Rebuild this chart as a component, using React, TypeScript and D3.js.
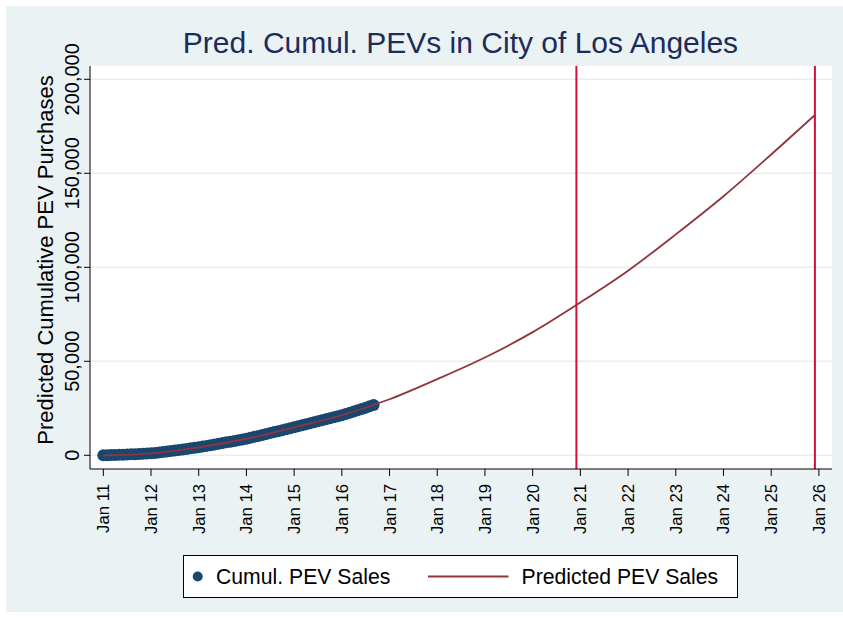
import React from "react";
import * as d3 from "d3";

// Months since Jan 2011
const observedValues = [
  0, 50, 110, 180, 250, 330, 420, 510, 610, 720, 830, 940,
  1050, 1270, 1500, 1740, 1990, 2250, 2520, 2800, 3090, 3390, 3700, 4000,
  4300, 4650, 5010, 5380, 5750, 6120, 6500, 6880, 7260, 7640, 8020, 8400,
  8800, 9300, 9800, 10300, 10800, 11310, 11820, 12330, 12840, 13350, 13860, 14380,
  14900, 15420, 15940, 16460, 16990, 17520, 18050, 18580, 19120, 19660, 20200, 20750,
  21300, 21950, 22600, 23270, 23950, 24640, 25340, 26050, 26800,
];
const predictedMonths = [0, 12, 24, 36, 48, 60, 72, 84, 96, 108, 120, 132, 144, 156, 168, 179];
const predictedValues = [
  0, 1050, 4250, 8800, 14900, 21300, 29800, 40500, 52000, 65500, 81300, 98200, 117500, 137800, 160000, 181000,
];
const markerMonths = [119, 179];
const xTickMonths = d3.range(0, 181, 12);
const xTickLabels = ["Jan 11", "Jan 12", "Jan 13", "Jan 14", "Jan 15", "Jan 16", "Jan 17", "Jan 18", "Jan 19", "Jan 20", "Jan 21", "Jan 22", "Jan 23", "Jan 24", "Jan 25", "Jan 26"];
const yTicks = [0, 50000, 100000, 150000, 200000];

const W = 843;
const H = 618;
const plot = { left: 90, right: 832, top: 66, bottom: 469 };
const FONT = "Liberation Sans, Arial, sans-serif";
const NAVY = "#1a476f";
const MAROON = "#90353b";
const RED = "#d0103a";

export default function App() {
  const x = d3.scaleLinear().domain([-3.35, 183.3]).range([plot.left, plot.right]);
  const y = d3.scaleLinear().domain([-7290, 207070]).range([plot.bottom, plot.top]);
  const fmt = d3.format(",");

  const predPts: [number, number][] = predictedMonths.map((m, i) => [m, predictedValues[i]]);
  const line = d3
    .line<[number, number]>()
    .x((d) => x(d[0]))
    .y((d) => y(d[1]))
    .curve(d3.curveMonotoneX);

  return (
    <svg
      width={W}
      height={H}
      style={{ position: "absolute", left: 0, top: 0, fontFamily: FONT }}
    >
      <rect x={0} y={0} width={W} height={H} fill="#ffffff" />
      <rect x={6} y={6} width={W - 6} height={H - 12} fill="#eaf2f3" />
      <rect
        x={plot.left}
        y={plot.top}
        width={plot.right - plot.left}
        height={plot.bottom - plot.top}
        fill="#ffffff"
      />
      {/* gridlines */}
      {yTicks.map((t) => (
        <line
          key={"g" + t}
          x1={plot.left}
          x2={plot.right}
          y1={y(t)}
          y2={y(t)}
          stroke="#e6eef0"
          strokeWidth={1.4}
        />
      ))}
      {/* vertical markers */}
      {markerMonths.map((m) => (
        <line
          key={"v" + m}
          x1={x(m)}
          x2={x(m)}
          y1={plot.top}
          y2={plot.bottom}
          stroke={RED}
          strokeWidth={2}
        />
      ))}
      {/* observed dots */}
      {observedValues.map((v, i) => (
        <circle key={"o" + i} cx={x(i)} cy={y(v)} r={6} fill={NAVY} />
      ))}
      {/* predicted line */}
      <path d={line(predPts) || ""} fill="none" stroke={MAROON} strokeWidth={1.8} />
      {/* axes */}
      <line x1={plot.left} x2={plot.left} y1={plot.top} y2={plot.bottom} stroke="#000" strokeWidth={1} />
      <line x1={plot.left} x2={plot.right} y1={plot.bottom} y2={plot.bottom} stroke="#000" strokeWidth={1} />
      {yTicks.map((t) => (
        <g key={"yt" + t}>
          <line x1={plot.left - 6} x2={plot.left} y1={y(t)} y2={y(t)} stroke="#000" strokeWidth={1} />
          <text
            transform={`translate(${79},${y(t)}) rotate(-90)`}
            textAnchor="middle"
            fontSize={20}
            fill="#000"
          >
            {fmt(t)}
          </text>
        </g>
      ))}
      {xTickMonths.map((m, i) => (
        <g key={"xt" + m}>
          <line x1={x(m)} x2={x(m)} y1={plot.bottom} y2={plot.bottom + 7} stroke="#000" strokeWidth={1} />
          <text
            transform={`translate(${x(m)},${484}) rotate(-90)`}
            textAnchor="end"
            dy="0.36em"
            fontSize={16.7}
            fill="#000"
          >
            {xTickLabels[i]}
          </text>
        </g>
      ))}
      {/* y axis title */}
      <text
        transform={`translate(${52.5},${260}) rotate(-90)`}
        textAnchor="middle"
        fontSize={22}
        fill="#000"
      >
        Predicted Cumulative PEV Purchases
      </text>
      {/* title */}
      <text x={460.5} y={53} textAnchor="middle" fontSize={30} fill="#1c2c5c">
        Pred. Cumul. PEVs in City of Los Angeles
      </text>
      {/* legend */}
      <rect x={183.5} y={555.5} width={554} height={42} fill="#ffffff" stroke="#000" strokeWidth={1} />
      <circle cx={197.7} cy={576.5} r={5} fill={NAVY} />
      <text x={216} y={584} fontSize={21.2} fill="#000">
        Cumul. PEV Sales
      </text>
      <line x1={428} x2={508.5} y1={576.5} y2={576.5} stroke={MAROON} strokeWidth={1.8} />
      <text x={521.5} y={584} fontSize={21.2} fill="#000">
        Predicted PEV Sales
      </text>
    </svg>
  );
}
